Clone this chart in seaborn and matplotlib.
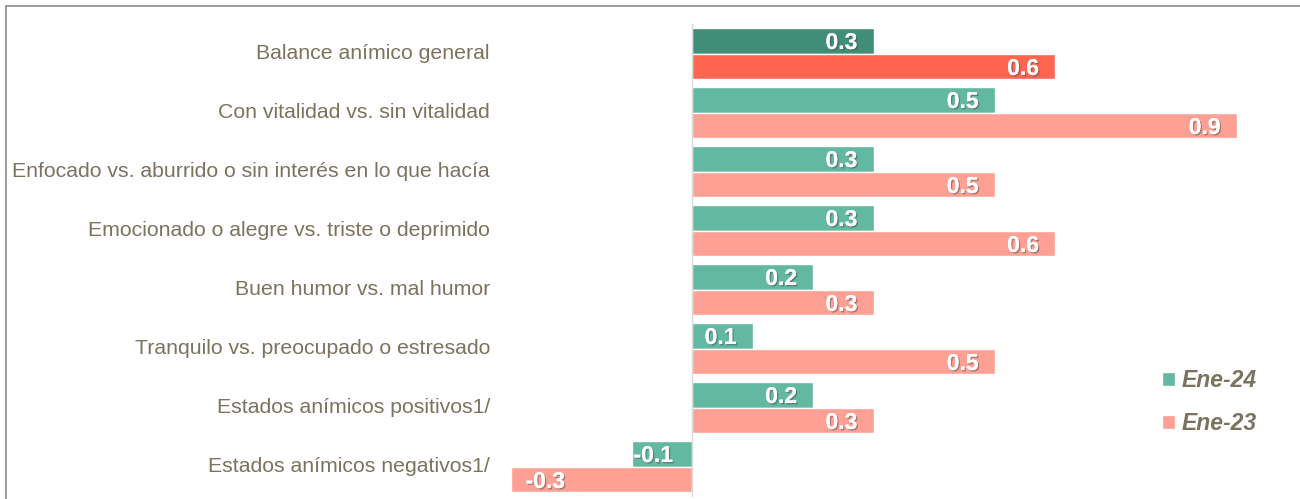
import numpy as np
import pandas as pd
import matplotlib
matplotlib.use("Agg")
import matplotlib.pyplot as plt
import matplotlib.patheffects as pe
from matplotlib.lines import Line2D
from matplotlib.patches import Patch
from matplotlib.transforms import blended_transform_factory
import seaborn as sns

# datos
categorias = [
    "Balance anímico general",
    "Con vitalidad vs. sin vitalidad",
    "Enfocado vs. aburrido o sin interés en lo que hacía",
    "Emocionado o alegre vs. triste o deprimido",
    "Buen humor vs. mal humor",
    "Tranquilo vs. preocupado o estresado",
    "Estados anímicos positivos1/",
    "Estados anímicos negativos1/",
]
series = ["Ene-24", "Ene-23"]
ene24 = [0.3, 0.5, 0.3, 0.3, 0.2, 0.1, 0.2, -0.1]
ene23 = [0.6, 0.9, 0.5, 0.6, 0.3, 0.5, 0.3, -0.3]

df = pd.DataFrame({
    "categoria": categorias * 2,
    "valor": ene24 + ene23,
    "serie": [series[0]] * len(categorias) + [series[1]] * len(categorias),
})

teal = "#62B8A0"
salmon = "#FFA094"
teal_dark = "#408E78"
red = "#FF6550"
txt_color = "#7A7360"

sns.set_theme(style="white")
plt.rcParams["font.family"] = ["Liberation Sans", "DejaVu Sans"]

fig = plt.figure(figsize=(13, 4.99), dpi=100)
ax = fig.add_axes([505 / 1300, 1 - 496 / 499, 785 / 1300, 472 / 499])

sns.barplot(data=df, y="categoria", x="valor", hue="serie", hue_order=series,
            orient="h", palette=[teal, salmon], width=0.88, saturation=1,
            ax=ax, legend=False)

# primera categoria con colores mas intensos
ax.containers[0][0].set_facecolor(teal_dark)
ax.containers[1][0].set_facecolor(red)

ax.set_xlim(-(692 - 505) / 605, (1290 - 692) / 605)
ax.set_ylim(7.5, -0.5)
ax.set_xlabel("")
ax.set_ylabel("")
ax.set_xticks([])
ax.set_yticklabels([])
ax.tick_params(axis="y", which="major", length=0)
ax.set_yticks(np.arange(-0.5, 8, 1), minor=True)
ax.tick_params(axis="y", which="minor", length=5, width=1, color="#D0D0D0", direction="out")
for s in ["top", "right", "bottom"]:
    ax.spines[s].set_visible(False)
ax.spines["left"].set_position(("data", 0))
ax.spines["left"].set_color("#D9D9D9")
ax.spines["left"].set_linewidth(1)

# etiquetas de categoria
tr = blended_transform_factory(fig.transFigure, ax.transData)
for i, c in enumerate(categorias):
    ax.text(490 / 1300, i, c, transform=tr, ha="right", va="center",
            fontsize=15.3, color=txt_color)

# etiquetas de valor
sombra = [pe.withSimplePatchShadow(offset=(1, -1), shadow_rgbFace="#444444", alpha=0.45), pe.Normal()]
for cont in ax.containers:
    for bar in cont:
        w = bar.get_width()
        yc = bar.get_y() + bar.get_height() / 2
        if w >= 0:
            ax.annotate(f"{w:.1f}", (w, yc), xytext=(-16, -2), textcoords="offset pixels",
                        ha="right", va="center", fontsize=16.5, fontweight="bold",
                        color="white", path_effects=sombra)
        else:
            pad = 15 if w < -0.15 else 2
            ax.annotate(f"{w:.1f}", (w, yc), xytext=(pad, -2), textcoords="offset pixels",
                        ha="left", va="center", fontsize=16.5, fontweight="bold",
                        color="white", path_effects=sombra)

# leyenda
handles = [Patch(facecolor=teal), Patch(facecolor=salmon)]
leg = fig.legend(handles, series, loc="center left", bbox_to_anchor=(1162 / 1300, 1 - 402 / 499),
                 bbox_transform=fig.transFigure, frameon=False, borderpad=0, borderaxespad=0,
                 handlelength=0.57, handleheight=0.57, handletextpad=0.3, labelspacing=0.85,
                 prop={"size": 16.5, "weight": "bold", "style": "italic"})
for t in leg.get_texts():
    t.set_color(txt_color)

# borde del grafico
fig.add_artist(Line2D([6 / 1300, 1.0], [1 - 6 / 499, 1 - 6 / 499], transform=fig.transFigure,
                      color="#8C8C8C", linewidth=1.2))
fig.add_artist(Line2D([6 / 1300, 6 / 1300], [0, 1 - 6 / 499], transform=fig.transFigure,
                      color="#8C8C8C", linewidth=1.2))

fig.savefig("out.png", dpi=100)
